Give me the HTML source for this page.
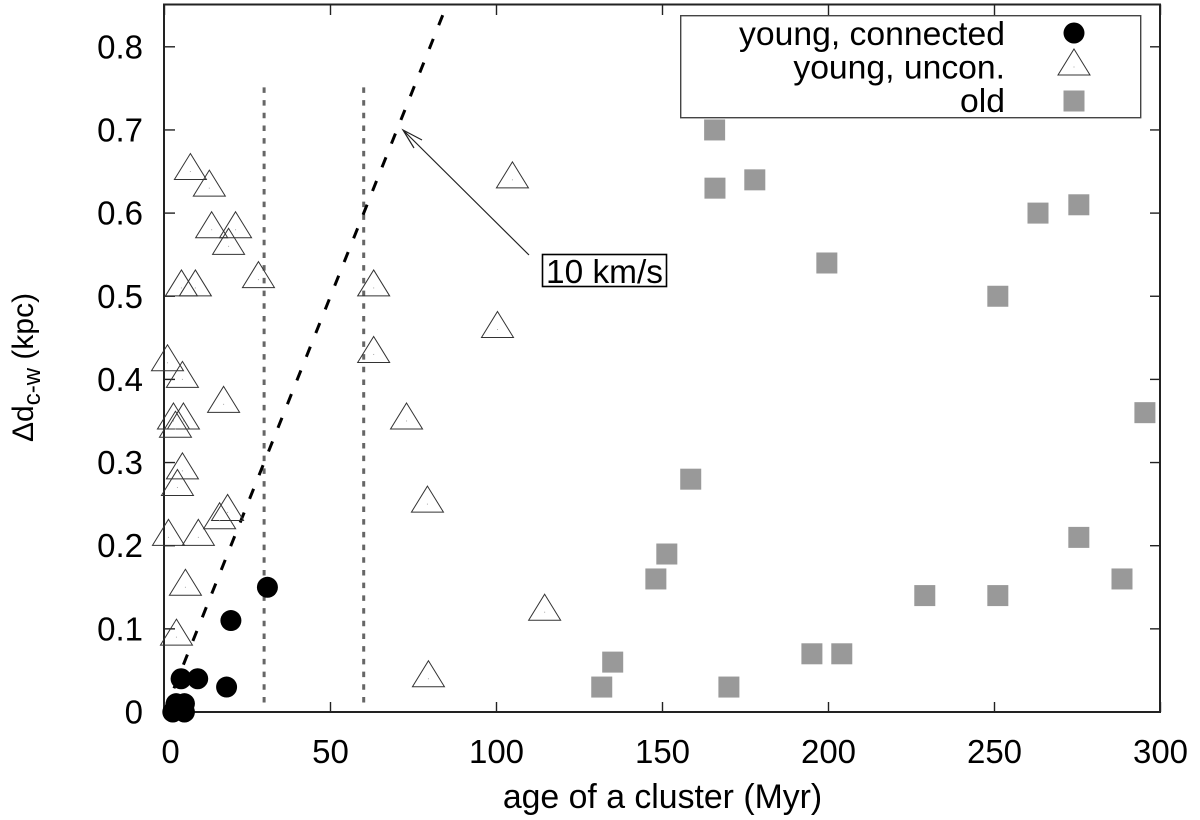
<!DOCTYPE html>
<html>
<head>
<meta charset="utf-8">
<title>Cluster age vs distance</title>
<style>
html,body{margin:0;padding:0;background:#fff;}
svg{display:block;}
text{font-family:"Liberation Sans",sans-serif;fill:#000;}
</style>
</head>
<body>
<svg id="chart" xmlns="http://www.w3.org/2000/svg" width="1200" height="820" viewBox="0 0 1200 820"></svg>
<script>
var xTickLabels = [0, 50, 100, 150, 200, 250, 300];
var yTickValues = [0, 0.1, 0.2, 0.3, 0.4, 0.5, 0.6, 0.7, 0.8];
var yTickLabels = ['0', '0.1', '0.2', '0.3', '0.4', '0.5', '0.6', '0.7', '0.8'];

var connectedAge = [2.5, 6, 3.5, 6, 5, 10, 18.7, 20, 31];
var connectedDist = [0, 0, 0.01, 0.01, 0.04, 0.04, 0.03, 0.11, 0.15];

var unconAge = [7.8, 13.5, 14.2, 21.4, 19.3, 28.3, 5.1, 9.3, 63, 100.3, 63, 0.9, 5.4, 17.8, 72.9, 2.7, 5.7, 3.3, 5.4, 3.9, 79.2, 19, 16.6, 1.2, 10.2, 6.3, 114.5, 3.6, 79.5, 104.8];
var unconDist = [0.65, 0.63, 0.58, 0.58, 0.56, 0.52, 0.51, 0.51, 0.51, 0.46, 0.43, 0.42, 0.40, 0.37, 0.35, 0.35, 0.35, 0.34, 0.29, 0.27, 0.25, 0.24, 0.23, 0.21, 0.21, 0.15, 0.12, 0.09, 0.04, 0.64];

var oldAge = [165.7, 165.8, 177.8, 199.5, 251, 263.1, 275.4, 295.3, 158.5, 151.3, 148, 275.4, 288.4, 229, 251, 195, 204, 170, 135, 131.7];
var oldDist = [0.70, 0.63, 0.64, 0.54, 0.50, 0.60, 0.61, 0.36, 0.28, 0.19, 0.16, 0.21, 0.16, 0.14, 0.14, 0.07, 0.07, 0.03, 0.06, 0.03];

var velocityLineAge = [0, 85];
var velocityLineDist = [0, 0.85];
var ageLimits = [30, 60];
var ageLimitRange = [0.75, 0.01];

var svg = document.getElementById('chart');
var NS = 'http://www.w3.org/2000/svg';

function xScale(v) { return 164.5 + v * 3.32; }
function yScale(v) { return 712 - v * 831.5; }

function mk(tag, attrs, parent) {
  var el = document.createElementNS(NS, tag);
  for (var k in attrs) { el.setAttribute(k, attrs[k]); }
  (parent || svg).appendChild(el);
  return el;
}

function drawTriangle(cx, cy) {
  var pts = cx + ',' + (cy - 18) + ' ' + (cx + 16) + ',' + (cy + 8) + ' ' + (cx - 16) + ',' + (cy + 8);
  var t = mk('polygon', { points: pts, fill: 'none', stroke: '#333', 'stroke-width': 1 });
  
  
  mk('rect', { x: cx - 0.5, y: cy - 0.5, width: 1, height: 1, fill: '#aaa' });
}

function drawSquare(cx, cy) {
  var s = mk('rect', { x: cx - 10.5, y: cy - 10.5, width: 21, height: 21, fill: '#999999' });
  
  
}

function drawCircle(cx, cy) {
  var c = mk('circle', { cx: cx, cy: cy, r: 10.5, fill: '#000' });
  
  
}

/* reference lines */
ageLimits.forEach(function (a) {
  var l = mk('line', { x1: xScale(a), x2: xScale(a), y1: yScale(ageLimitRange[0]) - 1, y2: yScale(ageLimitRange[1]), stroke: '#666', 'stroke-width': 3, 'stroke-dasharray': '5.5 7.2' });
  
  
});

var vel = mk('line', { x1: xScale(velocityLineAge[0]), y1: yScale(velocityLineDist[0]), x2: xScale(velocityLineAge[1]), y2: yScale(velocityLineDist[1]), stroke: '#000', 'stroke-width': 3, 'stroke-dasharray': '10.8 14.7' });



/* axis frame */
var frame = mk('rect', { x: 164, y: 4.5, width: 996, height: 707.5, fill: 'none', stroke: '#222', 'stroke-width': 2 });



xTickLabels.forEach(function (v) {
  var x = xScale(v);
  var a = mk('line', { x1: x, x2: x, y1: 712, y2: 702, stroke: '#222', 'stroke-width': 1.4 });
  
  
  var b = mk('line', { x1: x, x2: x, y1: 4.5, y2: 15, stroke: '#222', 'stroke-width': 1.4 });
  
  
  var t = mk('text', { x: v === 0 ? x + 6 : x, y: 763, 'font-size': 33, 'text-anchor': 'middle' });
  t.textContent = String(v);
  
  
});

yTickValues.forEach(function (v, i) {
  var y = yScale(v);
  var a = mk('line', { x1: 164, x2: 175, y1: y, y2: y, stroke: '#222', 'stroke-width': 1.4 });
  
  
  var b = mk('line', { x1: 1160, x2: 1150, y1: y, y2: y, stroke: '#222', 'stroke-width': 1.4 });
  
  
  var t = mk('text', { x: 143, y: y + 11.5, 'font-size': 33, 'text-anchor': 'end' });
  t.textContent = yTickLabels[i];
  
  
});

/* series */
unconAge.forEach(function (a, i) { drawTriangle(xScale(a), yScale(unconDist[i])); });
oldAge.forEach(function (a, i) { drawSquare(xScale(a), yScale(oldDist[i])); });
connectedAge.forEach(function (a, i) { drawCircle(xScale(a), yScale(connectedDist[i])); });

/* axis titles */
var xTitle = mk('text', { x: 662.5, y: 808, 'font-size': 33.8, 'text-anchor': 'middle' });
xTitle.textContent = 'age of a cluster (Myr)';



var yTitle = mk('text', { x: 0, y: 0, 'font-size': 30, transform: 'translate(33,442) rotate(-90)' });


mk('tspan', {}, yTitle).textContent = '\u0394d';
mk('tspan', { 'font-size': 24, dy: 7 }, yTitle).textContent = 'c-w';
mk('tspan', { dy: -7 }, yTitle).textContent = ' (kpc)';

/* legend */
var legend = mk('rect', { x: 680.7, y: 15.7, width: 460, height: 102, fill: 'none', stroke: '#444', 'stroke-width': 1.4 });



var legendLabels = ['young, connected', 'young, uncon.', 'old'];
legendLabels.forEach(function (s, i) {
  var t = mk('text', { x: 1005, y: 45 + i * 33.5, 'font-size': 33.7, 'text-anchor': 'end' });
  t.textContent = s;
  
  
});
drawCircle(1074, 33);
drawTriangle(1074, 67);
drawSquare(1074, 101);

/* annotation */
var arrow = mk('path', { d: 'M529 255 L403 130 M422 140 L403 130 L414 148', fill: 'none', stroke: '#222', 'stroke-width': 1.2 });


var box = mk('rect', { x: 542.5, y: 254.5, width: 124, height: 32, fill: '#fff', stroke: '#000', 'stroke-width': 1.6 });


var note = mk('text', { x: 604.5, y: 283, 'font-size': 33.4, 'text-anchor': 'middle' });
note.textContent = '10 km/s';


</script>
</body>
</html>
